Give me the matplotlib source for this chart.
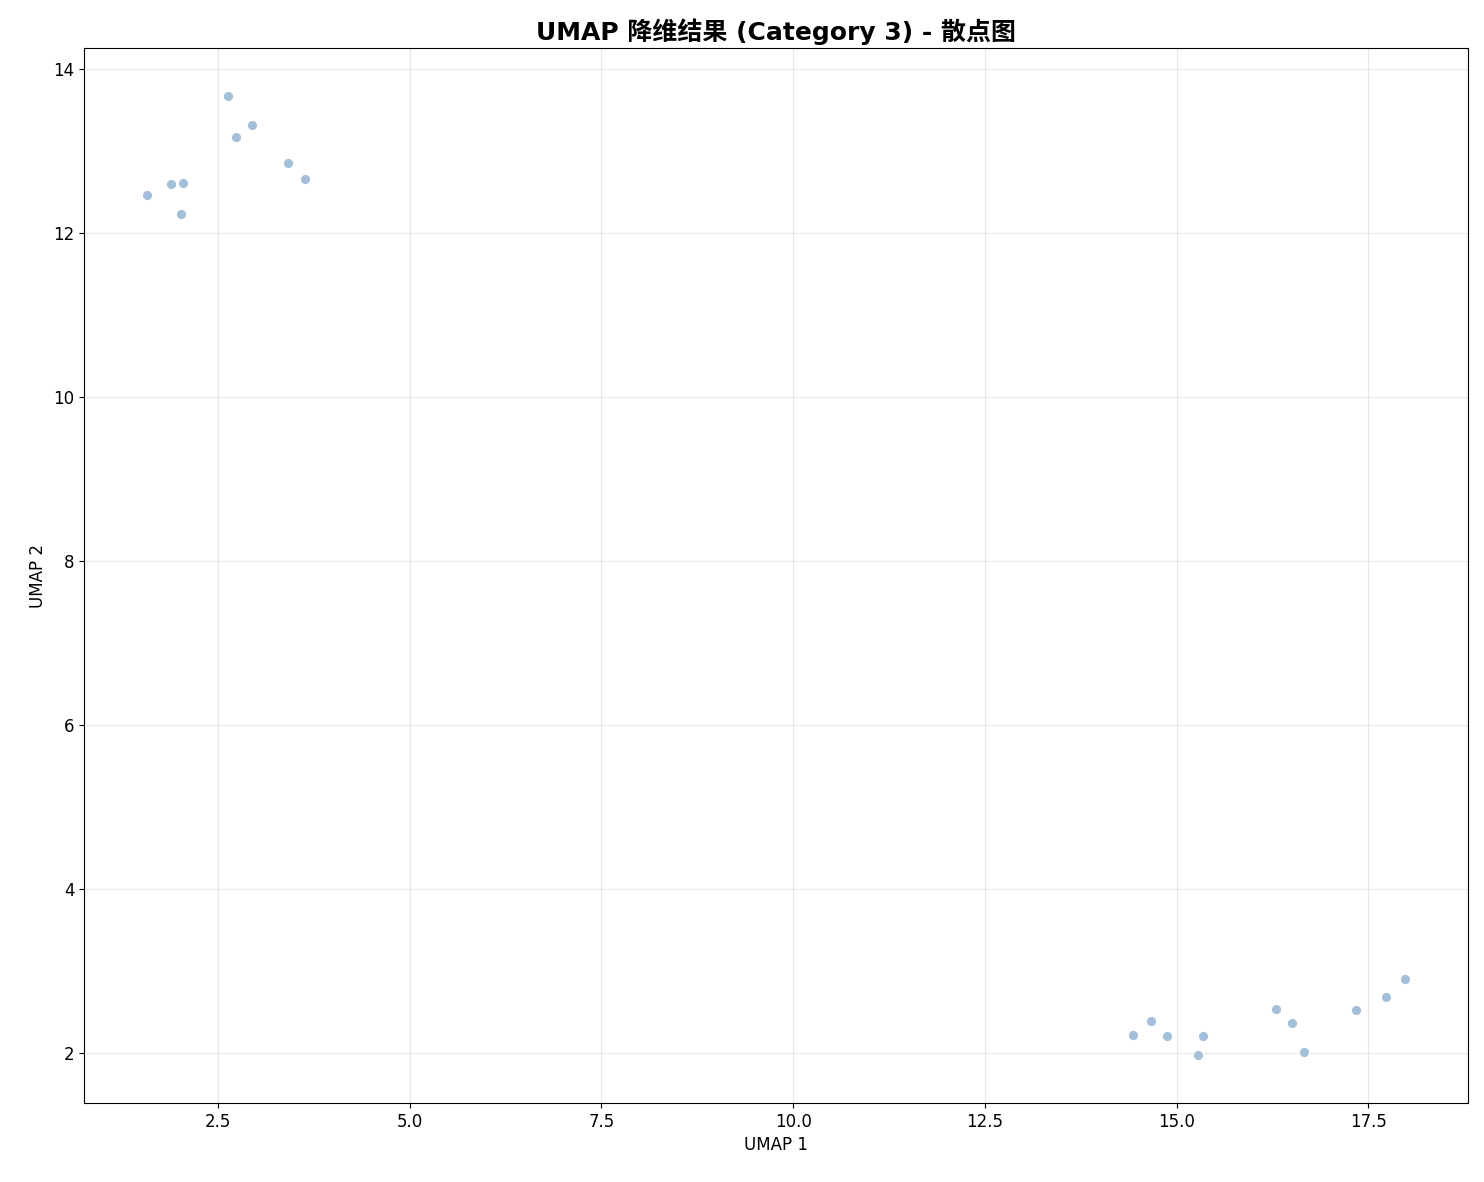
import matplotlib
matplotlib.use("Agg")
import matplotlib.pyplot as plt

plt.rcParams['font.family'] = ['DejaVu Sans', 'Noto Sans CJK SC']

umap1 = [1.57, 1.89, 2.04, 2.02, 2.63, 2.73, 2.94, 3.41, 3.63,
         14.43, 14.67, 14.88, 15.35, 15.28, 16.30, 16.50, 16.66, 17.34, 17.73, 17.98]
umap2 = [12.46, 12.60, 12.61, 12.23, 13.67, 13.17, 13.32, 12.85, 12.66,
         2.22, 2.39, 2.21, 2.21, 1.98, 2.54, 2.37, 2.01, 2.52, 2.68, 2.90]

fig = plt.figure(figsize=(14.84, 11.82), dpi=100)
ax = fig.add_axes([84/1484, 1-1103/1182, 1384/1484, 1055/1182])
ax.scatter(umap1, umap2, s=55, color='#a3bfd9', edgecolors='white', linewidths=0.8, zorder=3)
ax.set_xlim(0.752, 18.80)
ax.set_ylim(1.39, 14.256)
ax.grid(True, alpha=0.3)
ax.set_xlabel('UMAP 1', fontsize=12)
ax.set_ylabel('UMAP 2', fontsize=12)
ax.tick_params(labelsize=12)
ax.set_title('UMAP 降维结果 (Category 3) - 散点图', fontsize=18, fontweight='bold')
fig.savefig('out.png', dpi=100)
